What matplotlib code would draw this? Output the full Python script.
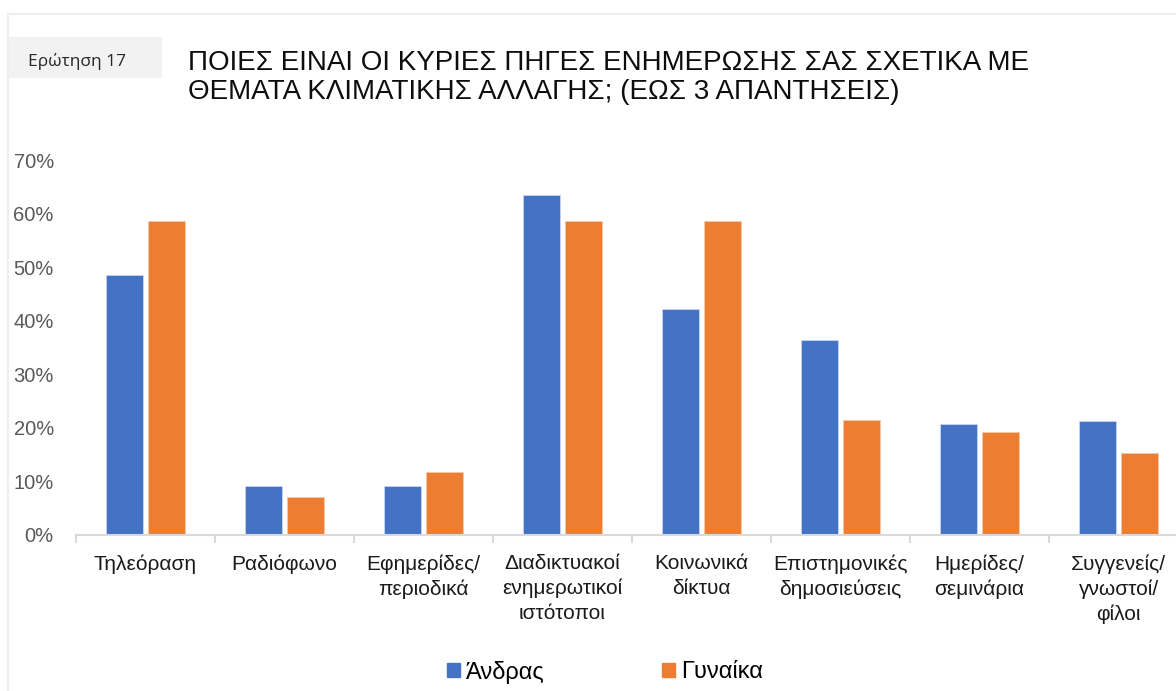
import numpy as np
import matplotlib.pyplot as plt
from matplotlib.patches import Rectangle, Patch
from matplotlib.lines import Line2D
from matplotlib.ticker import PercentFormatter

plt.rcParams['font.family'] = ['Liberation Sans', 'DejaVu Sans']

categories = ['Τηλεόραση', 'Ραδιόφωνο', 'Εφημερίδες/\nπεριοδικά',
              'Διαδικτυακοί\nενημερωτικοί\nιστότοποι', 'Κοινωνικά\nδίκτυα',
              'Επιστημονικές\nδημοσιεύσεις', 'Ημερίδες/\nσεμινάρια',
              'Συγγενείς/\nγνωστοί/\nφίλοι']
andras = [48.5, 9.2, 9.2, 63.5, 42.2, 36.4, 20.7, 21.2]
gynaika = [58.7, 7.1, 11.7, 58.7, 58.7, 21.5, 19.2, 15.3]
series_names = ['Άνδρας', 'Γυναίκα']
colors = ['#4472C4', '#ED7D31']

W, H = 1176, 691
fig = plt.figure(figsize=(W / 100, H / 100), dpi=100)

# axes area in pixels (the axis runs past the right edge, like the reference crop)
ax = fig.add_axes([76 / W, (H - 535) / H, 1112 / W, 375 / H])

x = np.arange(len(categories))
bw = 0.266
off = 0.151
ax.bar(x - off, andras, bw, color=colors[0], edgecolor='#C9D6EE', linewidth=0.6)
ax.bar(x + off, gynaika, bw, color=colors[1], edgecolor='#F6C9AA', linewidth=0.6)

ax.set_xlim(-0.5, len(categories) - 0.5)
ax.set_ylim(0, 70)
ax.set_yticks(np.arange(0, 71, 10))
ax.yaxis.set_major_formatter(PercentFormatter(decimals=0))
ax.tick_params(axis='y', length=0, pad=16, labelsize=14.5, labelcolor='#595959')

ax.set_xticks(x)
ax.set_xticklabels(categories, fontsize=15, color='#1a1a1a', linespacing=1.35)
ax.tick_params(axis='x', length=0, pad=14)
ax.set_xticks(np.arange(-0.5, len(categories), 1), minor=True)
ax.tick_params(axis='x', which='minor', length=6, width=1.5, color='#D9D9D9')

for s in ['top', 'right', 'left']:
    ax.spines[s].set_visible(False)
ax.spines['bottom'].set_color('#D9D9D9')
ax.spines['bottom'].set_linewidth(1.5)

# outer frame lines
fig.add_artist(Line2D([8 / W, 1], [1 - 14 / H, 1 - 14 / H], color='#EEEEEE', lw=1.5))
fig.add_artist(Line2D([8 / W, 8 / W], [0, 1 - 14 / H], color='#EEEEEE', lw=1.5))

# question label box
fig.add_artist(Rectangle((8 / W, 1 - 78 / H), 154 / W, 41 / H,
                         transform=fig.transFigure, color='#F2F2F2', lw=0))
fig.text(28 / W, 1 - 66 / H, 'Ερώτηση 17', fontsize=12.5, family=['Open Sans', 'DejaVu Sans'],
         color='#262626', va='baseline')

# title
fig.text(188 / W, 1 - 69.5 / H, 'ΠΟΙΕΣ ΕΙΝΑΙ ΟΙ ΚΥΡΙΕΣ ΠΗΓΕΣ ΕΝΗΜΕΡΩΣΗΣ ΣΑΣ ΣΧΕΤΙΚΑ ΜΕ',
         fontsize=20, color='#0d0d0d', va='baseline')
fig.text(188 / W, 1 - 99 / H, 'ΘΕΜΑΤΑ ΚΛΙΜΑΤΙΚΗΣ ΑΛΛΑΓΗΣ; (ΕΩΣ 3 ΑΠΑΝΤΗΣΕΙΣ)',
         fontsize=20, color='#0d0d0d', va='baseline')

handles = [Patch(color=c) for c in colors]
fig.legend(handles, series_names, loc='center', bbox_to_anchor=(605 / W, 1 - 672 / H),
           ncol=2, frameon=False, fontsize=17, handlelength=0.55, handleheight=0.55,
           handletextpad=0.25, columnspacing=5.0)

fig.savefig('out.png', dpi=100)
